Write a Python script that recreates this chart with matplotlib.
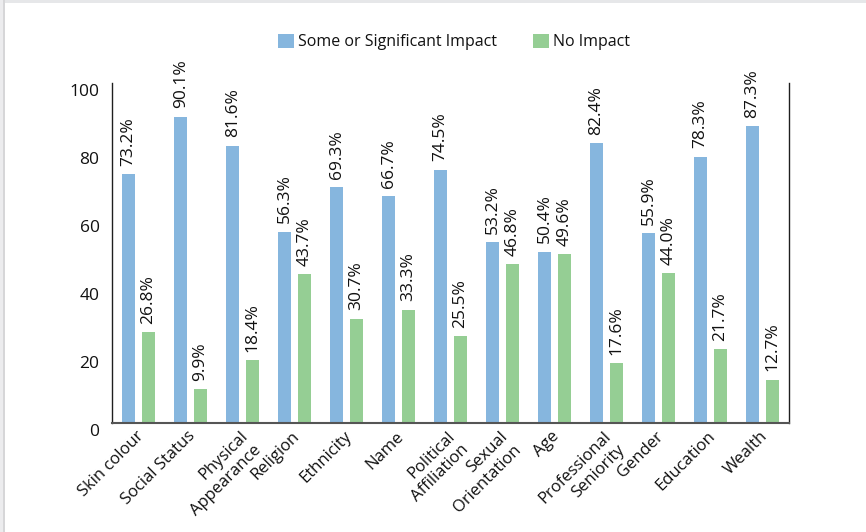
import matplotlib
matplotlib.use("Agg")
import matplotlib.pyplot as plt
import numpy as np
from matplotlib.patches import Rectangle
from matplotlib.transforms import ScaledTranslation

plt.rcParams['font.family'] = ['Open Sans', 'DejaVu Sans']

categories = ["Skin colour", "Social Status", "Physical\nAppearance", "Religion",
              "Ethnicity", "Name", "Political\nAffiliation", "Sexual\nOrientation",
              "Age", "Professional\nSeniority", "Gender", "Education", "Wealth"]
some_impact = [73.2, 90.1, 81.6, 56.3, 69.3, 66.7, 74.5, 53.2, 50.4, 82.4, 55.9, 78.3, 87.3]
no_impact = [26.8, 9.9, 18.4, 43.7, 30.7, 33.3, 25.5, 46.8, 49.6, 17.6, 44.0, 21.7, 12.7]
series_names = ["Some or Significant Impact", "No Impact"]
yticks = [0, 20, 40, 60, 80, 100]

BLUE = "#86B6DE"
GREEN = "#95CE94"
TXT = "#111111"

W, H = 866, 532
fig = plt.figure(figsize=(W / 100, H / 100), dpi=100)
fig.patch.set_facecolor("white")

# thin grey frame strips along the top and left edges
fig.patches.append(Rectangle((0, 1 - 3 / H), 1, 3 / H, transform=fig.transFigure,
                             facecolor="#e6e7e9", edgecolor="none", zorder=0))
fig.patches.append(Rectangle((0, 0), 3 / W, 1, transform=fig.transFigure,
                             facecolor="#ececee", edgecolor="none", zorder=0))
fig.patches.append(Rectangle((3 / W, 0), 1.5 / W, 1, transform=fig.transFigure,
                             facecolor="#d6d6d8", edgecolor="none", zorder=0))

ax = fig.add_axes([112 / W, 109 / H, (789 - 112) / W, 340 / H])

x = np.arange(len(categories))
bw = 0.25
off = 0.19
b1 = ax.bar(x - off, some_impact, bw, color=BLUE, label=series_names[0], zorder=2)
b2 = ax.bar(x + off, no_impact, bw, color=GREEN, label=series_names[1], zorder=2)

for bars, vals in ((b1, some_impact), (b2, no_impact)):
    for r, v in zip(bars, vals):
        ax.annotate(f"{v:.1f}%", (r.get_x() + r.get_width() / 2, v),
                    xytext=(0, 6), textcoords="offset points",
                    rotation=90, ha="center", va="bottom", fontsize=12.5,
                    color=TXT)

ax.set_xlim(-0.51, len(categories) - 1 + 0.51)
ax.set_ylim(0, 100)
ax.set_yticks(yticks)
ax.set_yticklabels([str(t) for t in yticks], fontsize=12.5, color=TXT)
ax.tick_params(axis="y", length=0, pad=9)
yshift = ScaledTranslation(0, -7 / 100, fig.dpi_scale_trans)
for lab in ax.get_yticklabels():
    lab.set_transform(lab.get_transform() + yshift)

ax.set_xticks(x)
ax.set_xticklabels(categories, rotation=45, ha="right", va="top",
                   rotation_mode="anchor", multialignment="right",
                   fontsize=12, color=TXT, linespacing=1.25)
ax.tick_params(axis="x", length=0, pad=6)
xshift = ScaledTranslation(-3 / 100, 3 / 100, fig.dpi_scale_trans)
for lab in ax.get_xticklabels():
    lab.set_transform(lab.get_transform() + xshift)

ax.spines["top"].set_visible(False)
for s in ("left", "right"):
    ax.spines[s].set_color("#1f1f1f")
    ax.spines[s].set_linewidth(1.0)
ax.spines["bottom"].set_color("#555555")
ax.spines["bottom"].set_linewidth(1.5)

fig.legend(handles=[b1, b2], labels=series_names, loc="center", ncol=2,
           bbox_to_anchor=(454 / W, 1 - 42 / H), frameon=False, fontsize=11.5,
           handlelength=1.0, handleheight=1.0, handletextpad=0.3,
           columnspacing=2.2, labelcolor=TXT)

fig.savefig("out.png", dpi=100)
